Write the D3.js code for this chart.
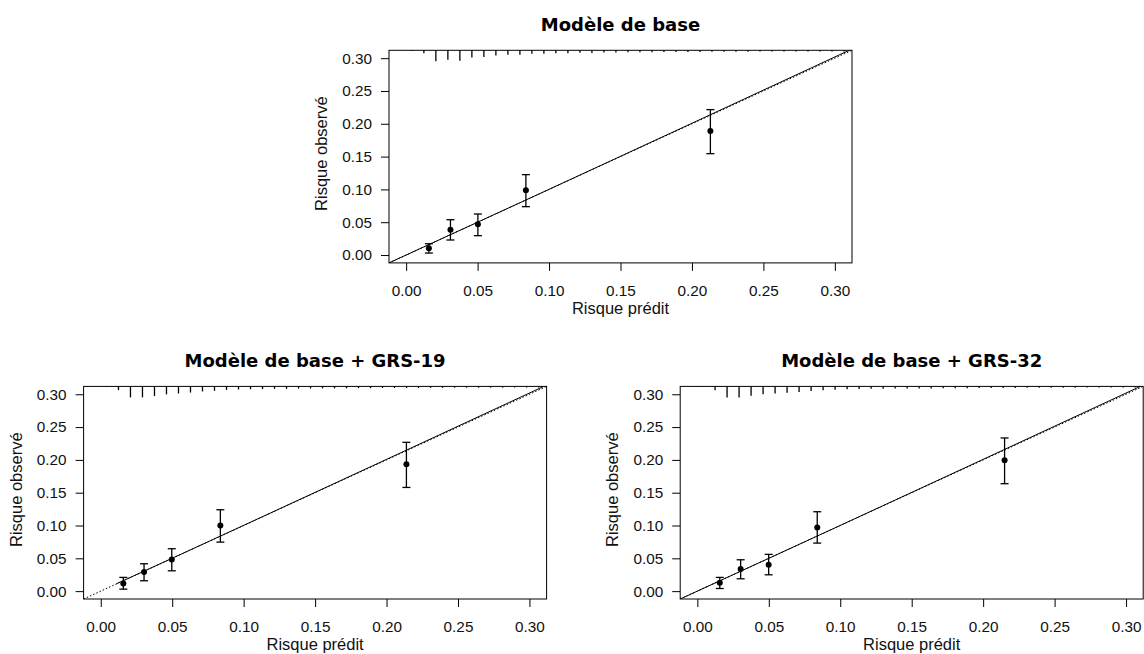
<!DOCTYPE html>
<html>
<head>
<meta charset="utf-8">
<script src="https://cdn.jsdelivr.net/npm/d3@7"></script>
<style>
  body { margin: 0; background: #fff; }
  svg { display: block; }
  .tick text { font-family: "Liberation Sans", Arial, sans-serif; font-size: 15.3px; fill: #111; }
  .lab { font-family: "Liberation Sans", Arial, sans-serif; font-size: 16.5px; fill: #111; }
  .ttl { font-family: "DejaVu Sans", sans-serif; font-size: 18px; font-weight: bold; fill: #000; }
</style>
</head>
<body>
<svg width="1144" height="654"></svg>
<script>
var width = 1144;
var height = 654;

// axis ticks
var xTicks = [0, 0.05, 0.10, 0.15, 0.20, 0.25, 0.30];
var yTicks = [0, 0.05, 0.10, 0.15, 0.20, 0.25, 0.30];

var titles = ["Modèle de base", "Modèle de base + GRS-19", "Modèle de base + GRS-32"];

// grouped points : predicted risk, observed risk and its 95% interval
var predicted1 = [0.0159, 0.0310, 0.0502, 0.0838, 0.2129];
var observed1  = [0.0102, 0.0386, 0.0468, 0.0986, 0.1890];
var lower1     = [0.0030, 0.0229, 0.0295, 0.0737, 0.1545];
var upper1     = [0.0172, 0.0538, 0.0625, 0.1225, 0.2216];

var predicted2 = [0.0158, 0.0303, 0.0497, 0.0837, 0.2139];
var observed2  = [0.0117, 0.0290, 0.0483, 0.1002, 0.1932];
var lower2     = [0.0030, 0.0158, 0.0310, 0.0747, 0.1580];
var upper2     = [0.0209, 0.0417, 0.0646, 0.1240, 0.2268];

var predicted3 = [0.0157, 0.0303, 0.0499, 0.0839, 0.2150];
var observed3  = [0.0127, 0.0336, 0.0402, 0.0971, 0.1993];
var lower3     = [0.0040, 0.0188, 0.0249, 0.0732, 0.1637];
var upper3     = [0.0209, 0.0478, 0.0560, 0.1210, 0.2334];

// logistic calibration curves
var calib1 = [[-0.012, -0.012], [0.05, 0.0500], [0.10, 0.1001], [0.20, 0.2008], [0.312, 0.3140]];
var calib2 = [[0.011, 0.0112], [0.05, 0.0501], [0.10, 0.1002], [0.20, 0.2008], [0.312, 0.3140]];
var calib3 = [[-0.012, -0.012], [0.05, 0.0500], [0.10, 0.1001], [0.20, 0.2008], [0.312, 0.3140]];

// distribution of predicted risks (spike histogram on top)
var rugBins = [0.0040, 0.0124, 0.0208, 0.0292, 0.0376, 0.0460, 0.0544, 0.0628, 0.0712, 0.0796,
               0.0880, 0.0964, 0.1048, 0.1132, 0.1216, 0.1300, 0.1384, 0.1468, 0.1552, 0.1636,
               0.1720, 0.1804, 0.1888, 0.1972, 0.2056, 0.2140, 0.2224, 0.2308, 0.2392, 0.2476,
               0.2560, 0.2644, 0.2728, 0.2812, 0.2896, 0.2980, 0.3064];
var rug1 = [0.06, 0.27, 1.00, 0.86, 0.95, 0.66, 0.60, 0.48, 0.40, 0.40, 0.32, 0.32, 0.26, 0.26, 0.22, 0.24, 0.20, 0.20, 0.18,
            0.18, 0.17, 0.16, 0.16, 0.15, 0.15, 0.14, 0.14, 0.13, 0.13, 0.12, 0.12, 0.12, 0.11, 0.11, 0.10, 0.10, 0.10];
var rug2 = [0.06, 0.34, 1.00, 1.00, 0.88, 0.72, 0.64, 0.56, 0.46, 0.40, 0.32, 0.28, 0.26, 0.24, 0.22, 0.22, 0.20, 0.19, 0.18,
            0.18, 0.17, 0.16, 0.16, 0.15, 0.15, 0.14, 0.14, 0.13, 0.13, 0.12, 0.12, 0.12, 0.11, 0.11, 0.10, 0.10, 0.10];
var rug3 = [0.06, 0.34, 1.00, 1.00, 0.86, 0.72, 0.64, 0.58, 0.50, 0.42, 0.34, 0.30, 0.26, 0.24, 0.22, 0.22, 0.20, 0.19, 0.18,
            0.18, 0.17, 0.16, 0.16, 0.15, 0.15, 0.14, 0.14, 0.13, 0.13, 0.12, 0.12, 0.12, 0.11, 0.11, 0.10, 0.10, 0.10];

var panels = [
  {left: 389, top: 50.3, title: titles[0], pred: predicted1, obs: observed1, lo: lower1, hi: upper1, calib: calib1, rug: rug1},
  {left: 83.6, top: 386.4, title: titles[1], pred: predicted2, obs: observed2, lo: lower2, hi: upper2, calib: calib2, rug: rug2},
  {left: 680.2, top: 386.4, title: titles[2], pred: predicted3, obs: observed3, lo: lower3, hi: upper3, calib: calib3, rug: rug3}
];

var plotW = 463;
var plotH = 212.6;

var svg = d3.select("svg")
            .attr("width", width)
            .attr("height", height);

panels.forEach(function(p, i) {
  var xScale = d3.scaleLinear()
                 .domain([-0.012, 0.312])
                 .range([0, plotW]);
  var yScale = d3.scaleLinear()
                 .domain([-0.012, 0.312])
                 .range([plotH, 0]);

  var g = svg.append("g")
             .attr("transform", "translate(" + p.left + "," + p.top + ")");

  g.append("clipPath")
      .attr("id", "clip" + i)
    .append("rect")
      .attr("width", plotW)
      .attr("height", plotH);

  // axes
  var xAxis = d3.axisBottom(xScale)
                .tickValues(xTicks)
                .tickFormat(d3.format(".2f"))
                .tickSizeOuter(0)
                .tickSizeInner(8);
  var yAxis = d3.axisLeft(yScale)
                .tickValues(yTicks)
                .tickFormat(d3.format(".2f"))
                .tickSizeOuter(0)
                .tickSizeInner(8)
                .tickPadding(9);

  var gx = g.append("g")
      .attr("transform", "translate(0," + plotH + ")")
      .call(xAxis);
  gx.select(".domain").remove();
  gx.selectAll("text").attr("y", 22).attr("dy", "0.71em");

  var gy = g.append("g").call(yAxis);
  gy.select(".domain").remove();

  g.selectAll(".tick line").attr("stroke", "#000").attr("stroke-width", 1);

  // ideal line (dotted)
  g.append("line")
      .attr("clip-path", "url(#clip" + i + ")")
      .attr("x1", xScale(-0.012)).attr("y1", yScale(-0.012))
      .attr("x2", xScale(0.312)).attr("y2", yScale(0.312))
      .attr("stroke", "#000")
      .attr("stroke-width", 1)
      .attr("stroke-dasharray", "1.5,2");

  // calibration curve
  var line = d3.line()
               .x(d => xScale(d[0]))
               .y(d => yScale(d[1]));
  g.append("path")
      .datum(p.calib)
      .attr("clip-path", "url(#clip" + i + ")")
      .attr("d", line)
      .attr("fill", "none")
      .attr("stroke", "#000")
      .attr("stroke-width", 1);

  // spike histogram hanging from the top
  var rugScale = d3.scaleLinear().domain([0, 1]).range([0, 11]);
  g.selectAll(".spike")
    .data(rugBins)
    .enter()
    .append("line")
      .attr("x1", d => xScale(d))
      .attr("x2", d => xScale(d))
      .attr("y1", 0)
      .attr("y2", (d, k) => rugScale(p.rug[k]))
      .attr("stroke", "#000")
      .attr("stroke-width", 1.3);

  // error bars
  var idx = d3.range(p.pred.length);
  g.selectAll(".bar")
    .data(idx)
    .enter()
    .append("line")
      .attr("x1", k => xScale(p.pred[k]))
      .attr("x2", k => xScale(p.pred[k]))
      .attr("y1", k => yScale(p.lo[k]))
      .attr("y2", k => yScale(p.hi[k]))
      .attr("stroke", "#000")
      .attr("stroke-width", 1.3);
  [p.lo, p.hi].forEach(function(arr) {
    g.selectAll(null)
      .data(idx)
      .enter()
      .append("line")
        .attr("x1", k => xScale(p.pred[k]) - 4)
        .attr("x2", k => xScale(p.pred[k]) + 4)
        .attr("y1", k => yScale(arr[k]))
        .attr("y2", k => yScale(arr[k]))
        .attr("stroke", "#000")
        .attr("stroke-width", 1.3);
  });

  g.selectAll(".pt")
    .data(idx)
    .enter()
    .append("circle")
      .attr("cx", k => xScale(p.pred[k]))
      .attr("cy", k => yScale(p.obs[k]))
      .attr("r", 3)
      .attr("fill", "#000");

  // box
  g.append("rect")
      .attr("width", plotW)
      .attr("height", plotH)
      .attr("fill", "none")
      .attr("stroke", "#000")
      .attr("stroke-width", 1);

  // labels
  g.append("text")
      .attr("class", "ttl")
      .attr("x", plotW / 2)
      .attr("y", -19)
      .attr("text-anchor", "middle")
      .text(p.title);

  g.append("text")
      .attr("class", "lab")
      .attr("x", plotW / 2)
      .attr("y", plotH + 51)
      .attr("text-anchor", "middle")
      .text("Risque prédit");

  g.append("text")
      .attr("class", "lab")
      .attr("transform", "rotate(-90)")
      .attr("x", -plotH / 2 + 3)
      .attr("y", -62)
      .attr("text-anchor", "middle")
      .text("Risque observé");
});
</script>
</body>
</html>
